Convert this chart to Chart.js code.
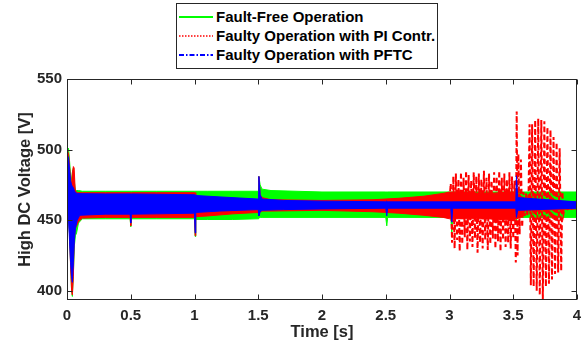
<!DOCTYPE html>
<html><head><meta charset="utf-8">
<script src="https://cdn.jsdelivr.net/npm/chart.js@4.4.0/dist/chart.umd.min.js"></script>
<style>
html,body{margin:0;padding:0;background:#fff;}
#wrap{position:relative;width:584px;height:347px;overflow:hidden;}
canvas{display:block;}
#legend{position:absolute;left:176px;top:3px;width:262px;height:66px;border:1px solid #262626;background:#fff;font:bold 15px "Liberation Sans",Arial,sans-serif;color:#000;box-sizing:border-box;}
.row{position:absolute;left:2px;height:19px;display:flex;align-items:center;white-space:nowrap;}
.row svg{margin-right:3px;}
</style></head>
<body>
<div id="wrap">
<canvas id="c" width="584" height="347"></canvas>
<div id="legend">
 <div class="row" style="top:3px"><svg width="34" height="4"><line x1="0" y1="2" x2="34" y2="2" stroke="#00ff00" stroke-width="2"/></svg><span>Fault-Free Operation</span></div>
 <div class="row" style="top:22px"><svg width="34" height="4"><line x1="0" y1="2" x2="34" y2="2" stroke="#ff0000" stroke-width="1.5" stroke-dasharray="1.5,1.5"/></svg><span>Faulty Operation with PI Contr.</span></div>
 <div class="row" style="top:41px"><svg width="34" height="4"><line x1="0" y1="2" x2="34" y2="2" stroke="#0000ff" stroke-width="2" stroke-dasharray="5,2,1.5,2"/></svg><span>Faulty Operation with PFTC</span></div>
</div>
</div>
<script>
// ---- data ----
const xTicks = [0, 0.5, 1, 1.5, 2, 2.5, 3, 3.5, 4];
const yTicks = [400, 450, 500, 550];

// Fault-free operation: envelope of the dense oscillation
const gT  = [0,0.004,0.012,0.02,0.028,0.036,0.042,0.05,0.058,0.066,0.075,0.09,0.12,0.3,0.495,0.5,0.505,0.7,1.0,1.005,1.01,1.1,1.3,1.5,1.505,1.515,1.53,1.6,2.0,2.5,2.508,2.515,2.8,3.01,3.018,3.025,3.2,3.52,3.525,3.53,3.7,4.0];
const gHi = [461,500,501,492,482,478,484,487,477,471,471,471,470.5,470.5,470.5,470.5,470.5,470.5,470.5,470.5,470.5,470.5,470.5,470.5,481,475,472,471,470,470,470,470,470,470,470,470,470,470,470,470,470,470];
const gLo = [459,458,455,440,420,400,396,412,432,439,441,448,451,451,451,445.5,451,451,451,438.5,450.5,450.5,450.5,451,452,452,452,452,452,452,446,452,452,452,440.5,452,452,452,448,452,452,452];

// Faulty operation with PI controller: envelope of the dense part
const rT  = [0,0.004,0.012,0.02,0.028,0.036,0.042,0.05,0.056,0.064,0.075,0.09,0.12,0.3,0.495,0.5,0.505,0.7,1.0,1.005,1.01,1.1,1.3,1.5,1.505,1.515,1.53,1.6,2.0,2.4,2.6,2.8,2.95,3.0,3.3,3.5,3.55,3.6,4.0];
const rHi = [461,499,497,488,478,476,483,488,487,472,469.5,469.5,469.5,469.5,469.5,469.5,469.5,469.5,469.5,469.5,467,466.5,465.5,464.5,481,468,466,464.5,464,464.5,465.5,467,469,470,469,470,468,464,463];
const rLo = [459,457,454,440,418,400,397,410,435,444,446,449,451.5,452,452,446,452,452,452,439,452.5,453,454.5,455.5,453,456,456.5,456.5,457,456,455,453.5,452,451,451,450,452,457,458];
// PI controller: large oscillation after 3 s (peaks / troughs)
const roT = [3.00,3.01,3.02,3.03,3.04,3.05,3.06,3.07,3.08,3.09,3.10,3.11,3.12,3.13,3.14,3.15,3.16,3.17,3.18,3.19,3.20,3.21,3.22,3.23,3.24,3.25,3.26,3.27,3.28,3.29,3.30,3.31,3.32,3.33,3.34,3.35,3.36,3.37,3.38,3.39,3.40,3.41,3.42,3.43,3.44,3.45,3.46,3.47,3.48,3.49,3.50,3.51,3.52,3.527,3.534,3.54,3.55,3.56,3.57,3.58,3.59,3.60,3.61,3.62,3.628,3.638,3.648,3.66,3.672,3.684,3.696,3.708,3.72,3.732,3.744,3.756,3.768,3.78,3.792,3.804,3.816,3.828,3.84,3.852,3.864,3.876,3.885,3.895,3.91,3.93,4.0];
const roV = [465,476,434,481,430,483,436,479,428,484,433,480,438,485,429,482,435,478,431,484,437,481,427,483,434,479,430,485,436,480,429,483,433,478,437,484,430,481,435,485,428,480,436,483,431,479,434,484,430,481,437,478,420,527,425,497,440,493,445,470,453,469,453,468,518,404,518,403,521,400,522,397,521,394,520,403,516,405,514,408,509,412,505,413,501,414,470,455,462,457,460];

// Faulty operation with PFTC: envelope
const bT  = [0,0.004,0.012,0.02,0.028,0.036,0.042,0.05,0.058,0.066,0.08,0.1,0.3,0.495,0.5,0.505,0.7,1.0,1.005,1.01,1.2,1.5,1.505,1.515,1.53,1.7,2.0,2.5,2.508,2.515,3.01,3.018,3.025,3.52,3.525,3.535,4.0];
const bHi = [461,496,494,486,478,475,474,473,471,469.5,469,468.8,468.6,468.6,468.6,468.6,468.4,468,468,467.5,466.5,465,481,468,465,464,463.5,463,463.5,463,463,463,463,463,481.5,466,463];
const bLo = [459,458,450,435,420,410,406,420,436,444,450,453.5,454.3,454.3,448,454.3,454.5,455,441,455.5,456.5,457.5,453,456,457,457.5,458,458.5,453,458.5,458.5,448.6,458.5,458.5,452,457,458.5];

const GREEN = '#00ff00', RED = '#ff0000', BLUE = '#0000ff', AX = '#262626';
const pts = (t, v) => t.map((x, i) => ({x: x, y: v[i]}));
const band = (t, v, c, fill, order) => ({data: pts(t, v), borderColor: c, backgroundColor: c, borderWidth: 1, fill: fill, order: order, pointRadius: 0, tension: 0});

const boxPlugin = {
  id: 'box',
  afterDatasetsDraw(chart) {
    const {ctx, chartArea: a, scales: {x, y}} = chart;
    const L = Math.round(a.left) + 0.5, R = Math.round(a.right) - 0.5, T = Math.round(a.top) + 0.5, B = Math.round(a.bottom) - 0.5;
    ctx.save();
    ctx.strokeStyle = AX; ctx.lineWidth = 1;
    ctx.beginPath();
    xTicks.forEach(v => { const p = Math.round(x.getPixelForValue(v)) + 0.5; ctx.moveTo(p, B); ctx.lineTo(p, B - 5); ctx.moveTo(p, T); ctx.lineTo(p, T + 5); });
    yTicks.forEach(v => { const p = Math.round(y.getPixelForValue(v)) + 0.5; ctx.moveTo(L, p); ctx.lineTo(L + 5, p); ctx.moveTo(R, p); ctx.lineTo(R - 5, p); });
    ctx.stroke();
    ctx.strokeRect(L, T, R - L, B - T);
    ctx.restore();
  }
};

new Chart(document.getElementById('c'), {
  type: 'line',
  data: {
    datasets: [
      band(bT, bHi, BLUE, false, 1),
      band(bT, bLo, BLUE, '-1', 1),
      {data: pts(roT, roV), borderColor: RED, borderWidth: 2, borderDash: [5, 3], fill: false, order: 2, pointRadius: 0, tension: 0},
      band(rT, rHi, RED, false, 3),
      band(rT, rLo, RED, '-1', 3),
      band(gT, gHi, GREEN, false, 4),
      band(gT, gLo, GREEN, '-1', 4)
    ]
  },
  options: {
    responsive: false, animation: false, devicePixelRatio: 1,
    layout: {padding: {top: 79, right: 7, left: 0, bottom: 0}},
    plugins: {legend: {display: false}, tooltip: {enabled: false}},
    scales: {
      x: {
        type: 'linear', min: 0, max: 4,
        afterBuildTicks: s => { s.ticks = xTicks.map(v => ({value: v})); },
        afterFit: s => { s.height = 47; s.paddingLeft = 0; s.paddingRight = 0; },
        grid: {display: false, drawTicks: false}, border: {display: false},
        ticks: {color: AX, font: {family: 'Liberation Sans', weight: 'bold', size: 15}, padding: 7, maxRotation: 0, autoSkip: false, callback: v => String(v)},
        title: {display: true, text: 'Time [s]', color: AX, font: {family: 'Liberation Sans', weight: 'bold', size: 16.5}, padding: {top: 0, bottom: 5}}
      },
      y: {
        min: 393.5, max: 550,
        afterBuildTicks: s => { s.ticks = yTicks.map(v => ({value: v})); },
        afterFit: s => { s.width = 67; },
        grid: {display: false, drawTicks: false}, border: {display: false},
        ticks: {color: AX, font: {family: 'Liberation Sans', weight: 'bold', size: 15}, padding: 5, autoSkip: false},
        title: {display: true, text: 'High DC Voltage [V]', color: AX, font: {family: 'Liberation Sans', weight: 'bold', size: 16.5}, padding: {top: 16, bottom: 0}}
      }
    }
  },
  plugins: [boxPlugin]
});
</script>
</body></html>
